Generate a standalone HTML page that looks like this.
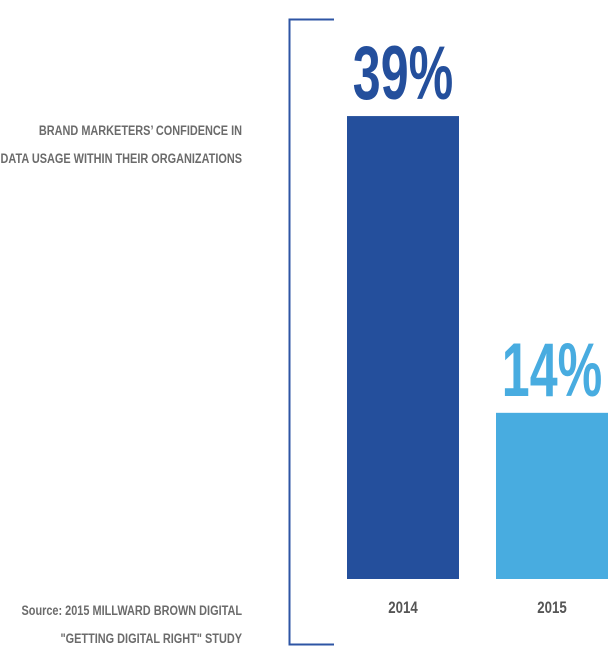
<!DOCTYPE html>
<html><head><meta charset="utf-8"><style>
body{margin:0;background:#fff;width:616px;height:662px;overflow:hidden}
svg text{font-family:"Liberation Sans",sans-serif;font-weight:bold}
</style></head><body>
<svg width="616" height="662">
<g fill="#6b6b6b" font-size="14" text-anchor="end">
<text x="242" y="135" transform="translate(242 0) scale(0.78 1) translate(-242 0)">BRAND MARKETERS’ CONFIDENCE IN</text>
<text x="242" y="163" transform="translate(242 0) scale(0.78 1) translate(-242 0)">DATA USAGE WITHIN THEIR ORGANIZATIONS</text>
<text x="242" y="615" transform="translate(242 0) scale(0.78 1) translate(-242 0)">Source: 2015 MILLWARD BROWN DIGITAL</text>
<text x="242" y="643" transform="translate(242 0) scale(0.78 1) translate(-242 0)">"GETTING DIGITAL RIGHT" STUDY</text>
</g>
<path d="M334 19.5H289.5V644.5H334" fill="none" stroke="#2e55a4" stroke-width="2"/>
<g id="bars"></g>
</svg>
<script>
const categories=["2014","2015"];
const values=[39,14];
const labels=["39%","14%"];
const colors=["#244f9c","#48ace0"];
const base=579, pxPerUnit=11.87;
const y=v=>base-v*pxPerUnit;
const xLeft=i=>347+i*149;
const bw=112;
const g=document.getElementById('bars');
const ns="http://www.w3.org/2000/svg";
categories.forEach((c,i)=>{
  const r=document.createElementNS(ns,'rect');
  r.setAttribute('x',xLeft(i));r.setAttribute('y',y(values[i]));
  r.setAttribute('width',bw);r.setAttribute('height',base-y(values[i]));
  r.setAttribute('fill',colors[i]);
  
  
  g.appendChild(r);
  const cx=xLeft(i)+bw/2;
  const t=document.createElementNS(ns,'text');
  t.setAttribute('x',cx);t.setAttribute('y',y(values[i])-17);
  t.setAttribute('text-anchor','middle');t.setAttribute('font-size','76');
  t.setAttribute('fill',colors[i]);
  t.setAttribute('transform',`translate(${cx} 0) scale(0.66 1) translate(${-cx} 0)`);
  t.textContent=labels[i];
  
  
  g.appendChild(t);
  const l=document.createElementNS(ns,'text');
  l.setAttribute('x',cx);l.setAttribute('y',613);
  l.setAttribute('text-anchor','middle');l.setAttribute('font-size','17');
  l.setAttribute('fill','#555');
  l.setAttribute('transform',`translate(${cx} 0) scale(0.78 1) translate(${-cx} 0)`);
  l.textContent=c;
  
  
  g.appendChild(l);
});
</script>
</body></html>
